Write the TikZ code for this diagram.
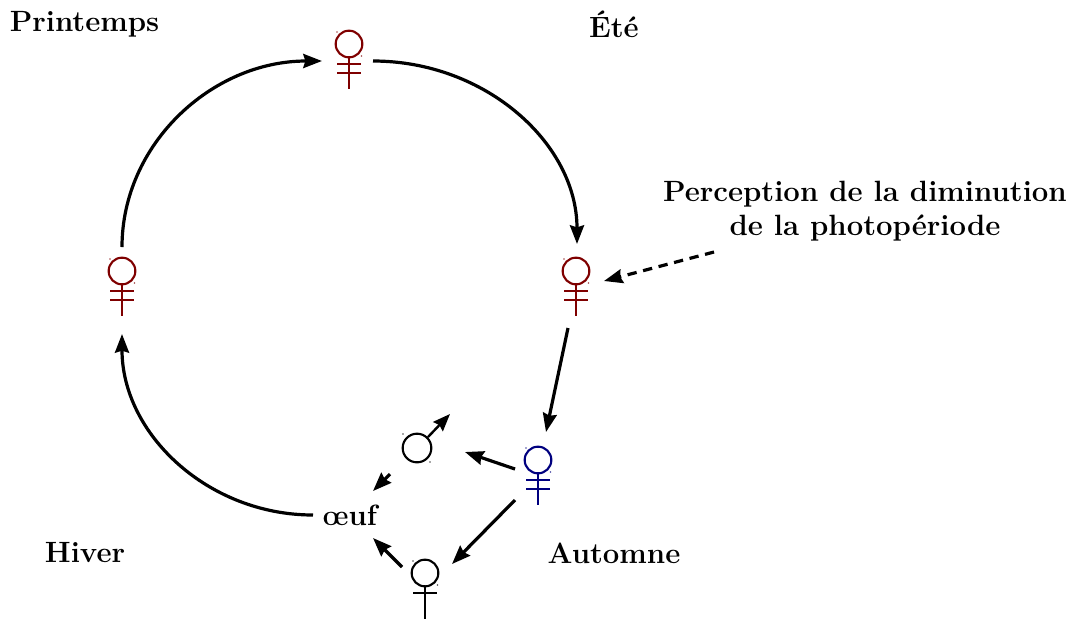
\documentclass[tikz,border=0pt]{standalone}
\usetikzlibrary{arrows.meta}
\definecolor{dred}{HTML}{7F0000}
\definecolor{dblue}{HTML}{00007F}
\tikzset{
  sym/.style={circle,draw=#1,line width=1.6pt,minimum size=20pt,inner sep=0pt},
  stem/.style={#1,line width=1.8pt},
  dotmark/.style={fill=#1,fill opacity=.7,draw=none},
  conn/.style={line width=2.4pt,-{Stealth[length=14pt,width=10.5pt,inset=1.5pt]}},
  lab/.style={font=\fontsize{22}{25.5}\selectfont\bfseries,inner sep=0pt,align=center},
  egg/.style={font=\fontsize{22}{25}\selectfont\bfseries,inner sep=0pt}
}
\newcommand{\cornerdots}[2]{%
  \fill[dotmark=#2] ([shift={(-12,-12)}]#1.center) circle (.7pt);
  \fill[dotmark=#2] ([shift={(12.5,12)}]#1.center) circle (.7pt);}
\newcommand{\twobars}[2]{%
  \draw[stem=#2] (#1.south) -- ([yshift=-34pt]#1.center);
  \draw[stem=#2] ([shift={(-12,20)}]#1.center) -- ([shift={(12,20)}]#1.center);
  \draw[stem=#2] ([shift={(-12,29)}]#1.center) -- ([shift={(12,29)}]#1.center);
  \cornerdots{#1}{#2}}
\begin{document}
\begin{tikzpicture}[x=0.75pt,y=-0.75pt]
\useasboundingbox (0,0) rectangle (1070,619);
% text
\node[lab] (printemps) at (84.5,24) {Printemps};
\node[lab] (ete) at (614,24) {Été};
\node[lab] (hiver) at (85,553) {Hiver};
\node[lab] (automne) at (614,553) {Automne};
\node[lab] (percep) at (865,211) {Perception de la diminution\\de la photopériode};
\node[egg] (oeuf) at (350,515) {œuf};
% symbols
\node[sym=dred] (fete) at (349,44) {};
\twobars{fete}{dred}
\node[sym=dred] (fprin) at (122,271) {};
\twobars{fprin}{dred}
\node[sym=dred] (faut) at (576,271) {};
\twobars{faut}{dred}
\node[sym=dblue] (fbleu) at (538,460) {};
\twobars{fbleu}{dblue}
\node[sym=black,minimum size=21.5pt] (male) at (417,448) {};
\fill[dotmark=black] ([shift={(-14,-14)}]male.center) circle (.7pt);
\fill[dotmark=black] ([shift={(13,14)}]male.center) circle (.7pt);
\node[sym=black] (femelle) at (425,573) {};
\draw[stem=black] (femelle.south) -- ([yshift=-34.5pt]femelle.center);
\draw[stem=black] ([shift={(-12,20)}]femelle.center) -- ([shift={(12,20)}]femelle.center);
\cornerdots{femelle}{black}
% connectors
\draw[line width=1.8pt,-{Stealth[length=13pt,width=10pt,inset=1.5pt]}] (male.north east) -- ([shift={(33,-34)}]male.center);
\draw[conn] ([shift={(0,-24)}]fprin.center) .. controls ([shift={(0,-127)}]fprin.center) and ([shift={(90,-210)}]fprin.center) .. ([shift={(-27,17)}]fete.center);
\draw[conn] ([shift={(24,17)}]fete.center) .. controls ([shift={(137,17)}]fete.center) and ([shift={(228,100)}]fete.center) .. ([shift={(1,-27)}]faut.center);
\draw[conn] ([shift={(-37,0)}]oeuf.center) .. controls ([shift={(-142,0)}]oeuf.center) and ([shift={(-228,-81)}]oeuf.center) .. ([shift={(0,63)}]fprin.center);
\draw[conn,dash pattern=on 7pt off 5pt] ([shift={(-151,41)}]percep.center) -- ([shift={(28,10)}]faut.center);
\draw[conn] ([shift={(-8,57)}]faut.center) -- ([shift={(8,-28)}]fbleu.center);
\draw[conn] ([shift={(-23,9)}]fbleu.center) -- ([shift={(48,4)}]male.center);
\draw[conn] ([shift={(-23,40)}]fbleu.center) -- ([shift={(27,-9)}]femelle.center);
\draw[conn] ([shift={(-27,26)}]male.center) -- ([shift={(23,-24)}]oeuf.center);
\draw[conn] ([shift={(-23,-6)}]femelle.center) -- ([shift={(23,23)}]oeuf.center);
\end{tikzpicture}
\end{document}
